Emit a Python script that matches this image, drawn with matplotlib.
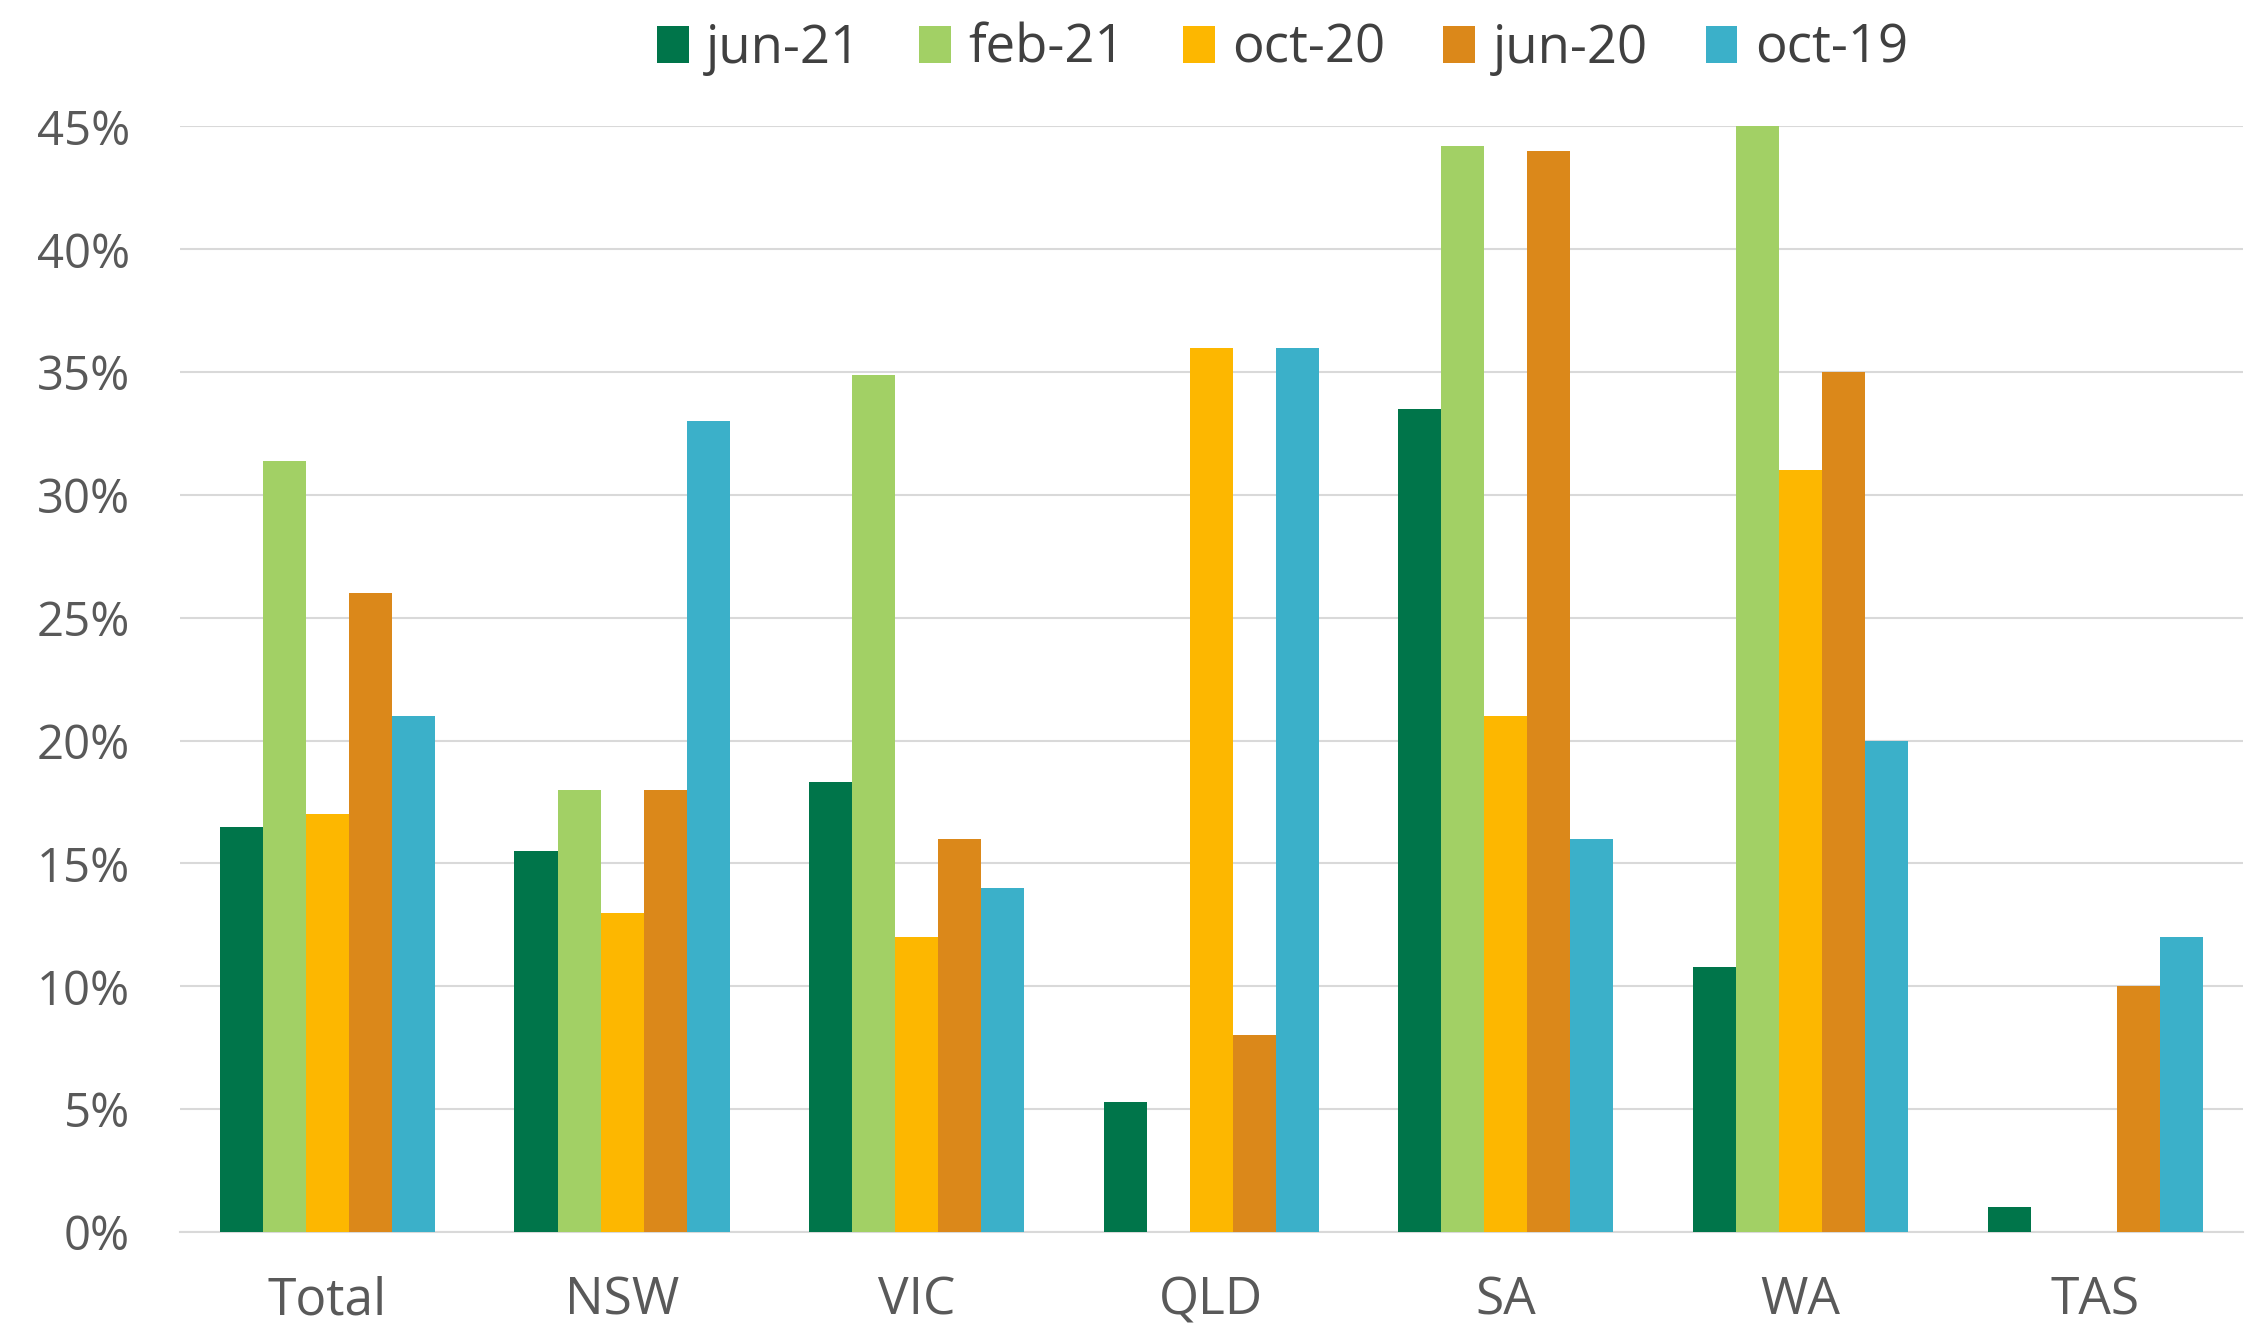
import matplotlib
matplotlib.use("Agg")
import matplotlib.pyplot as plt
import numpy as np

categories = ["Total", "NSW", "VIC", "QLD", "SA", "WA", "TAS"]
series_names = ["jun-21", "feb-21", "oct-20", "jun-20", "oct-19"]
jun21 = [16.5, 15.5, 18.3, 5.3, 33.5, 10.8, 1.0]
feb21 = [31.4, 18.0, 34.9, 0.0, 44.2, 45.0, 0.0]
oct20 = [17.0, 13.0, 12.0, 36.0, 21.0, 31.0, 0.0]
jun20 = [26.0, 18.0, 16.0, 8.0, 44.0, 35.0, 10.0]
oct19 = [21.0, 33.0, 14.0, 36.0, 16.0, 20.0, 12.0]
yticks = [0, 5, 10, 15, 20, 25, 30, 35, 40, 45]

colors = ["#00754A", "#A2D065", "#FDB700", "#DB881A", "#3BB0C9"]
series = [jun21, feb21, oct20, jun20, oct19]

plt.rcParams['font.family'] = ['Open Sans', 'DejaVu Sans']
fig = plt.figure(figsize=(22.54, 13.30), dpi=100)
ax = fig.add_axes([0.0799, 0.0737, 0.915, 0.8312])

x = np.arange(len(categories))
w = 0.146
for i, (vals, name, c) in enumerate(zip(series, series_names, colors)):
    ax.bar(x + (i - 2) * w, vals, width=w, color=c, label=name, zorder=3)

ax.set_xlim(-0.5, len(categories) - 0.5)
ax.set_ylim(0, 45)
ax.set_yticks(yticks)
ax.set_yticklabels([f"{t}%" for t in yticks])
ax.set_xticks(x)
ax.set_xticklabels(categories)
ax.grid(axis='y', color='#D9D9D9', linewidth=1.5, zorder=0)
for s in ["top", "right", "left"]:
    ax.spines[s].set_visible(False)
ax.spines["bottom"].set_color('#D9D9D9')
ax.spines["bottom"].set_linewidth(1.5)
ax.tick_params(axis='both', length=0, colors='#595959')
ax.tick_params(axis='y', labelsize=34, pad=36)
ax.tick_params(axis='x', labelsize=37, pad=31)

fig.legend(loc='center', bbox_to_anchor=(0.569, 0.963), ncol=5, frameon=False,
           fontsize=38, handlelength=0.6, handleheight=0.7, handletextpad=0.33,
           columnspacing=1.1, labelcolor='#404040')

fig.savefig("out.png", dpi=100)
